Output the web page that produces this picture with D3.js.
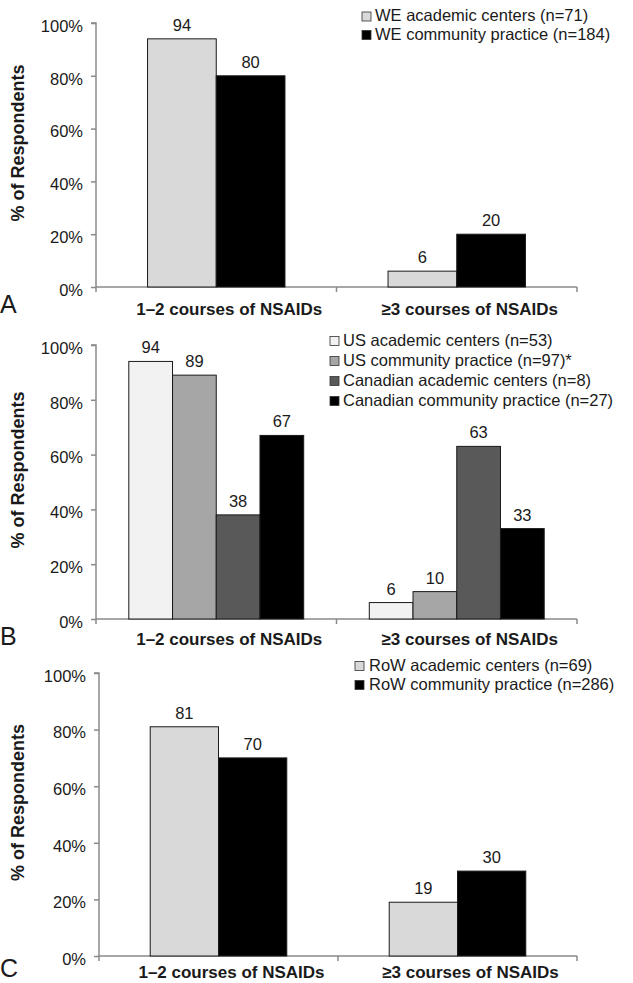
<!DOCTYPE html>
<html>
<head>
<meta charset="utf-8">
<script src="https://cdn.jsdelivr.net/npm/d3@7"></script>
<style>
  html, body { margin: 0; padding: 0; background: #fff; }
  svg { display: block; font-family: "Liberation Sans", Arial, Helvetica, sans-serif; }
</style>
</head>
<body>
<svg id="chart" width="633" height="983"></svg>
<script>
// ---- Data ----
const categories = ["1\u20132 courses of NSAIDs", "\u22653 courses of NSAIDs"];
const yTicks = [0, 20, 40, 60, 80, 100];
const yTitle = "% of Respondents";

// Panel A
const seriesA = ["WE academic centers (n=71)", "WE community practice (n=184)"];
const weAcademic = [94, 6];
const weCommunity = [80, 20];

// Panel B
const seriesB = ["US academic centers (n=53)", "US community practice (n=97)*",
                 "Canadian academic centers (n=8)", "Canadian community practice (n=27)"];
const usAcademic = [94, 6];
const usCommunity = [89, 10];
const canAcademic = [38, 63];
const canCommunity = [67, 33];

// Panel C
const seriesC = ["RoW academic centers (n=69)", "RoW community practice (n=286)"];
const rowAcademic = [81, 19];
const rowCommunity = [70, 30];

const panelLetters = ["A", "B", "C"];

// ---- Layout / style ----
const panels = [
  { letter: panelLetters[0], series: seriesA, values: [weAcademic, weCommunity],
    colors: ["#d9d9d9", "#000000"],
    x0: 96, x1: 577, yTop: 23, yBottom: 287,
    leg: { sq: 362, tx: 375, y0: 15.5, dy: 18.5 }, letterY: 313, catY: 315 },
  { letter: panelLetters[1], series: seriesB, values: [usAcademic, usCommunity, canAcademic, canCommunity],
    colors: ["#f2f2f2", "#a6a6a6", "#595959", "#000000"],
    x0: 96, x1: 577, yTop: 345, yBottom: 619,
    leg: { sq: 330, tx: 343, y0: 340, dy: 20 }, letterY: 645, catY: 645 },
  { letter: panelLetters[2], series: seriesC, values: [rowAcademic, rowCommunity],
    colors: ["#d9d9d9", "#000000"],
    x0: 99, x1: 577, yTop: 673, yBottom: 956,
    leg: { sq: 355, tx: 369, y0: 665, dy: 19 }, letterY: 977, catY: 978 }
];

const svg = d3.select("#chart");
const axisColor = "#8a8a8a";
const textColor = "#1a1a1a";

panels.forEach(p => {
  const g = svg.append("g");
  const x = d3.scaleBand().domain(categories).range([p.x0, p.x1]).paddingInner(0).paddingOuter(0);
  const n = p.series.length;
  const bw = x.bandwidth();
  const barW = bw / (n + 1.5);
  const gap = bw - n * barW;
  const xs = d3.scaleBand().domain(d3.range(n)).range([gap / 2, bw - gap / 2]).padding(0);
  const y = d3.scaleLinear().domain([0, 100]).range([p.yBottom, p.yTop]);

  // Y axis
  const yAxis = d3.axisLeft(y).tickValues(yTicks).tickFormat(d => d + "%").tickSize(5).tickPadding(8);
  const ya = g.append("g").attr("transform", `translate(${p.x0},0)`).call(yAxis);
  ya.select(".domain").attr("stroke", axisColor).attr("stroke-width", 1.5)
    .attr("d", `M-5,${p.yTop}H0V${p.yBottom + 5}`);
  ya.selectAll(".tick line").attr("stroke", axisColor).attr("stroke-width", 1.5);
  ya.selectAll(".tick text").attr("font-size", 16.5).attr("fill", textColor)
    .attr("font-family", "Liberation Sans, Arial, sans-serif").attr("dy", "0.5em");

  // X axis (ticks at band boundaries)
  const xa = g.append("g");
  xa.append("line").attr("x1", p.x0).attr("x2", p.x1)
    .attr("y1", p.yBottom).attr("y2", p.yBottom)
    .attr("stroke", axisColor).attr("stroke-width", 1.5);
  const bounds = categories.map(c => x(c)).concat([p.x1]).slice(1);
  xa.selectAll("line.xt").data(bounds).join("line").attr("class", "xt")
    .attr("x1", d => d).attr("x2", d => d)
    .attr("y1", p.yBottom).attr("y2", p.yBottom + 5)
    .attr("stroke", axisColor).attr("stroke-width", 1.5);

  // Category labels
  g.selectAll("text.cat").data(categories).join("text").attr("class", "cat")
    .attr("x", d => x(d) + bw / 2 + 13).attr("y", p.catY)
    .attr("text-anchor", "middle").attr("font-weight", "bold").attr("font-size", 17)
    .attr("fill", textColor).text(d => d);

  // Bars
  const data = [];
  categories.forEach((c, ci) => {
    p.series.forEach((s, si) => data.push({ c, si, v: p.values[si][ci] }));
  });
  g.selectAll("rect.bar").data(data).join("rect").attr("class", "bar")
    .attr("x", d => x(d.c) + xs(d.si)).attr("width", xs.bandwidth())
    .attr("y", d => y(d.v)).attr("height", d => y(0) - y(d.v))
    .attr("fill", d => p.colors[d.si]).attr("stroke", "#1a1a1a").attr("stroke-width", 1);

  // Value labels
  g.selectAll("text.val").data(data).join("text").attr("class", "val")
    .attr("x", d => x(d.c) + xs(d.si) + xs.bandwidth() / 2)
    .attr("y", d => y(d.v) - 8)
    .attr("text-anchor", "middle").attr("font-size", 16.5).attr("fill", textColor)
    .text(d => Math.round(d.v));

  // Y title
  const cy = (p.yTop + p.yBottom) / 2 - 12;
  g.append("text").attr("transform", `translate(24,${cy}) rotate(-90)`)
    .attr("text-anchor", "middle").attr("font-weight", "bold").attr("font-size", 18)
    .attr("fill", textColor).text(yTitle);

  // Panel letter
  g.append("text").attr("x", 0).attr("y", p.letterY).attr("font-size", 25)
    .attr("fill", textColor).text(p.letter);

  // Legend
  const lg = g.append("g");
  p.series.forEach((s, i) => {
    const cyL = p.leg.y0 + i * p.leg.dy;
    lg.append("rect").attr("x", p.leg.sq).attr("y", cyL - 3.5).attr("width", 9).attr("height", 9)
      .attr("fill", p.colors[i]).attr("stroke", "#333").attr("stroke-width", 0.8);
    lg.append("text").attr("x", p.leg.tx).attr("y", cyL).attr("dy", "0.36em")
      .attr("font-size", 16.5).attr("fill", textColor).text(s);
  });
});
</script>
</body>
</html>
